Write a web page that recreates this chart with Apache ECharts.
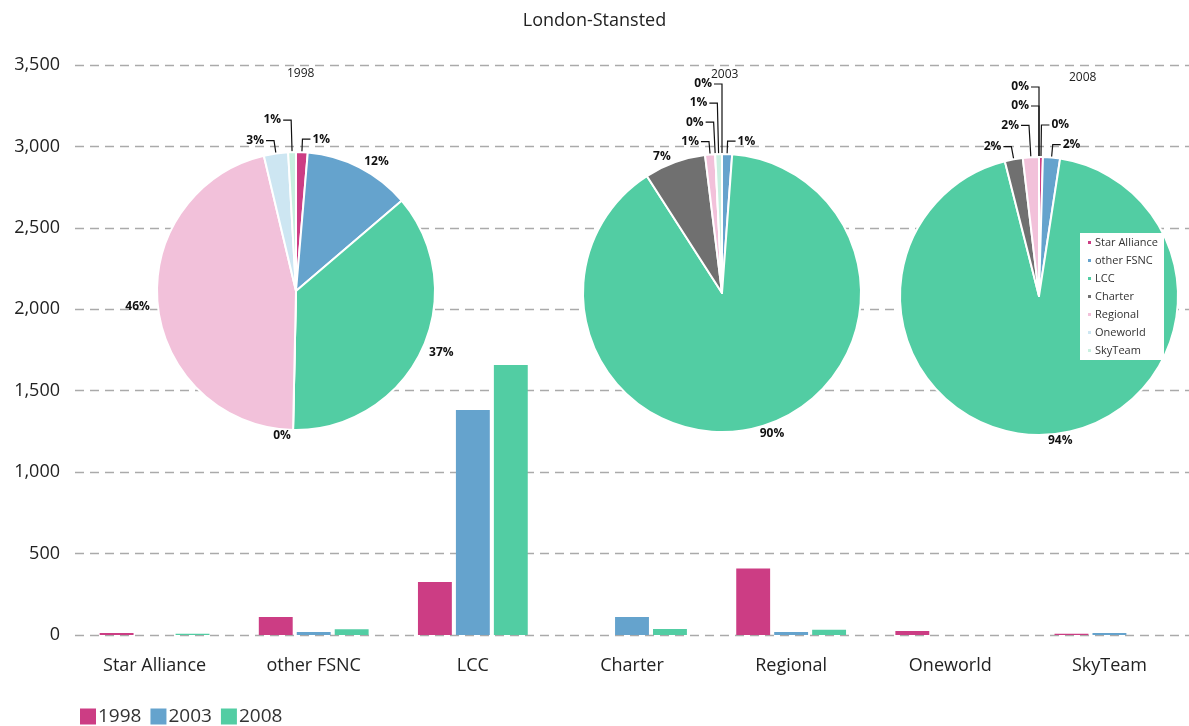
<!DOCTYPE html>
<html>
<head>
<meta charset="utf-8">
<script src="https://cdn.jsdelivr.net/npm/echarts@6/dist/echarts.min.js"></script>
<style>
  html, body { margin: 0; padding: 0; background: #fff; }
  #chart { width: 1189px; height: 726px; }
</style>
</head>
<body>
<div id="chart"></div>
<script>
// categories + values per year
const categories = ['Star Alliance', 'other FSNC', 'LCC', 'Charter', 'Regional', 'Oneworld', 'SkyTeam']
const years = ['1998', '2003', '2008']
const v1998 = [12, 110, 325, 0, 408, 25, 8]
const v2003 = [0, 18, 1382, 110, 18, 0, 12]
const v2008 = [8, 35, 1658, 37, 33, 0, 0]
const yMax = 3500
const yStep = 500

const yearColors = ['#cc3d84', '#65a3cd', '#52cda3']
const catColors = ['#cc3d84', '#65a3cd', '#52cda3', '#707070', '#f2c1da', '#cde6f2', '#c9f0e0']
const font = '"Open Sans", "Noto Sans", sans-serif'

// pie data built from the same values
// small slices near the top get stacked leader lines (closest to top = longest line)
function pieData (vals) {
  const total = vals.reduce((a, b) => a + b, 0)
  let cum = 0
  const info = vals.map((v) => {
    const mid = (cum + v / 2) / total * 360
    cum += v
    const dist = Math.min(mid, 360 - mid)
    // a zero slice sitting exactly at the top gets drawn on the left by echarts
    return { right: mid > 0 && mid < 180, dist, stack: v / total < 0.05 && dist < 90 }
  })
  return vals.map((v, i) => {
    const me = info[i]
    let line = { show: false, length: 6, length2: 0 }
    if (me.stack) {
      const side = info.filter(o => o.stack && o.right === me.right).sort((a, b) => a.dist - b.dist)
      const k = side.indexOf(me)
      line = { show: true, length: 13 + (side.length - 1 - k) * 19, length2: 8 }
    }
    return {
      name: categories[i],
      value: v,
      itemStyle: { color: catColors[i] },
      labelLine: line
    }
  })
}

function pie (vals, center) {
  return {
    type: 'pie',
    center: center,
    radius: 139,
    startAngle: 90,
    clockwise: true,
    percentPrecision: 0,
    avoidLabelOverlap: false,
    itemStyle: { borderColor: '#fff', borderWidth: 2 },
    label: {
      position: 'outside',
      formatter: '{d}%',
      fontFamily: font,
      fontSize: 12,
      fontWeight: 'bold',
      color: '#111',
      distanceToLabelLine: 2
    },
    labelLine: { lineStyle: { color: '#111', width: 1.2 }, smooth: false },
    emphasis: { disabled: true },
    z: 5,
    data: pieData(vals)
  }
}

const chart = echarts.init(document.getElementById('chart'))
const titleStyle = { fontSize: 12, fontWeight: 'normal', color: '#222', fontFamily: font }
const option = {
  animation: false,
  textStyle: { fontFamily: font },
  title: [
    { text: 'London-Stansted', left: 'center', top: 7, textStyle: { fontSize: 18, fontWeight: 'normal', color: '#222', fontFamily: font } },
    { text: '1998', left: 282, top: 63, textStyle: titleStyle },
    { text: '2003', left: 706, top: 64, textStyle: titleStyle },
    { text: '2008', left: 1064, top: 67, textStyle: titleStyle }
  ],
  legend: [
    {
      data: categories,
      orient: 'vertical',
      left: 1080,
      top: 233,
      padding: [4, 6, 4, 6],
      backgroundColor: '#fff',
      icon: 'rect',
      itemWidth: 5,
      itemHeight: 5,
      itemGap: 7,
      textStyle: { fontSize: 11, color: '#333', fontFamily: font, padding: [0, 0, 0, -2] },
      z: 10
    },
    {
      data: years,
      left: 75,
      top: 702,
      icon: 'rect',
      itemWidth: 16,
      itemHeight: 16,
      itemGap: 9,
      textStyle: { fontSize: 19, color: '#333', fontFamily: font, padding: [0, 0, 0, -3] }
    }
  ],
  grid: { left: 75, right: 0, top: 65, bottom: 91 },
  xAxis: {
    type: 'category',
    data: categories,
    axisLine: { show: false },
    axisTick: { show: false },
    axisLabel: { fontSize: 18, color: '#222', margin: 22 }
  },
  yAxis: {
    type: 'value',
    min: 0,
    max: yMax,
    interval: yStep,
    axisLine: { show: false },
    axisTick: { show: false },
    axisLabel: {
      fontSize: 18,
      color: '#222',
      margin: 15,
      formatter: v => v.toLocaleString('en-US')
    },
    splitLine: { lineStyle: { color: '#aaa', type: [9, 6], width: 1.3 } }
  },
  series: [
    { name: years[0], type: 'bar', data: v1998, itemStyle: { color: yearColors[0] }, barCategoryGap: '31%', barGap: '12%' },
    { name: years[1], type: 'bar', data: v2003, itemStyle: { color: yearColors[1] } },
    { name: years[2], type: 'bar', data: v2008, itemStyle: { color: yearColors[2] } },
    pie(v1998, [296, 291]),
    pie(v2003, [722, 293]),
    pie(v2008, [1039, 296])
  ]
}
chart.setOption(option)
</script>
</body>
</html>
